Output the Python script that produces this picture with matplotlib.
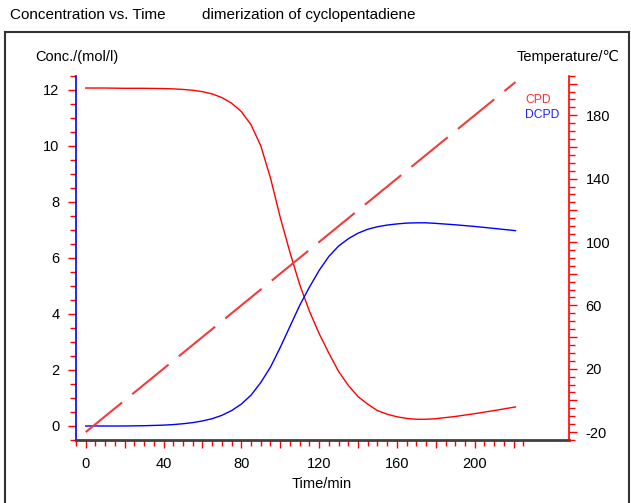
import numpy as np
import matplotlib
matplotlib.use("Agg")
import matplotlib.pyplot as plt
from matplotlib.ticker import FixedLocator, FuncFormatter
from matplotlib.lines import Line2D

plt.rcParams['font.family'] = ['Liberation Sans', 'DejaVu Sans']

# concentration of CPD [mol/l]
t_cpd = [0, 10, 20, 30, 40, 45, 50, 55, 60, 65, 70, 75, 80, 85, 90, 95, 100, 105,
         110, 115, 120, 125, 130, 135, 140, 145, 150, 155, 160, 165, 170, 175, 180,
         190, 200, 210, 221]
c_cpd = [12.06, 12.06, 12.05, 12.05, 12.04, 12.03, 12.01, 11.98, 11.93, 11.85,
         11.72, 11.52, 11.22, 10.75, 10.0, 8.85, 7.45, 6.2, 5.05, 4.1, 3.3, 2.6,
         1.95, 1.45, 1.05, 0.78, 0.55, 0.42, 0.33, 0.27, 0.24, 0.24, 0.26, 0.34,
         0.44, 0.55, 0.68]

# concentration of DCPD [mol/l]
t_dcpd = [0, 10, 20, 30, 40, 45, 50, 55, 60, 65, 70, 75, 80, 85, 90, 95, 100, 105,
          110, 115, 120, 125, 130, 135, 140, 145, 150, 155, 160, 165, 170, 175, 180,
          190, 200, 210, 221]
c_dcpd = [0.0, 0.0, 0.0, 0.01, 0.03, 0.05, 0.08, 0.12, 0.18, 0.26, 0.38, 0.55,
          0.78, 1.1, 1.55, 2.1, 2.8, 3.55, 4.3, 4.95, 5.55, 6.05, 6.42, 6.68, 6.88,
          7.02, 7.11, 7.17, 7.21, 7.24, 7.25, 7.25, 7.23, 7.18, 7.12, 7.05, 6.97]

# temperature [C]
t_temp = [0, 221]
temp = [-20, 201]

W, H = 631, 503
fig = plt.figure(figsize=(W / 100, H / 100), dpi=100)
ax = fig.add_axes([76 / W, 1 - 440 / H, (569 - 76) / W, (440 - 75.7) / H])
ax2 = ax.twinx()

ax.plot(t_cpd, c_cpd, color='#ff0000', lw=1.0)
ax.plot(t_dcpd, c_dcpd, color='#0000ff', lw=1.0)
ax2.plot(t_temp, temp, color='#f03c3c', lw=1.5, dashes=(22.5, 6.3))

ax.set_xlim(-5, 248.5)
ax.set_ylim(-0.5, 12.5)
ax2.set_ylim(-25, 205)

# spines
ax.spines['top'].set_visible(False)
ax.spines['right'].set_visible(False)
ax.spines['left'].set_color('blue')
ax.spines['left'].set_linewidth(1.2)
ax.spines['bottom'].set_color('#404040')
ax.spines['bottom'].set_linewidth(2.0)
ax2.spines['top'].set_visible(False)
ax2.spines['left'].set_visible(False)
ax2.spines['bottom'].set_visible(False)
ax2.spines['right'].set_color('red')
ax2.spines['right'].set_linewidth(1.2)

# x ticks
ax.xaxis.set_major_locator(FixedLocator(np.arange(0, 221, 20)))
ax.xaxis.set_minor_locator(FixedLocator(np.arange(-5, 226, 5)))
ax.xaxis.set_major_formatter(FuncFormatter(lambda v, p: '%d' % v if v % 40 == 0 else ''))

# left ticks
ax.yaxis.set_major_locator(FixedLocator(np.arange(0, 13, 2)))
ax.yaxis.set_minor_locator(FixedLocator(np.arange(-0.5, 12.6, 0.5)))
ax.yaxis.set_major_formatter(FuncFormatter(lambda v, p: '%d' % v))

# right ticks
ax2.yaxis.set_major_locator(FixedLocator(np.arange(-20, 201, 20)))
ax2.yaxis.set_minor_locator(FixedLocator(np.arange(-25, 206, 5)))
ax2.yaxis.set_major_formatter(FuncFormatter(lambda v, p: '%d' % v if (v + 20) % 40 == 0 else ''))

for a in (ax, ax2):
    a.tick_params(which='major', direction='out', length=6, width=1.0,
                  color='red', labelcolor='black', labelsize=10.5, pad=6)
    a.tick_params(which='minor', direction='out', length=4.2, width=1.0,
                  color='red')
ax.tick_params(axis='x', pad=6)

# texts
fig.text(10 / W, 1 - 15 / H, 'Concentration vs. Time', fontsize=11, va='center')
fig.text(202 / W, 1 - 15 / H, 'dimerization of cyclopentadiene', fontsize=11, va='center')
fig.text(35 / W, 1 - 57 / H, 'Conc./(mol/l)', fontsize=10.5, va='center')
fig.text(517 / W, 1 - 57 / H, 'Temperature/\u2103', fontsize=10.5, va='center')
fig.text(322 / W, 1 - 484 / H, 'Time/min', fontsize=10.5, ha='center', va='center')
fig.text(525 / W, 1 - 100 / H, 'CPD', fontsize=8.7, color='#ff3030', va='center')
fig.text(525 / W, 1 - 115 / H, 'DCPD', fontsize=8.7, color='#2020ff', va='center')

# outer frame
fc = '#333333'
fig.add_artist(Line2D([5 / W, 5 / W], [-0.1, 1 - 32 / H], color=fc, lw=1.5))
fig.add_artist(Line2D([5 / W, 629 / W], [1 - 32 / H, 1 - 32 / H], color=fc, lw=1.5))
fig.add_artist(Line2D([629 / W, 629 / W], [-0.1, 1 - 32 / H], color=fc, lw=1.5))

fig.savefig('out.png', dpi=100)
